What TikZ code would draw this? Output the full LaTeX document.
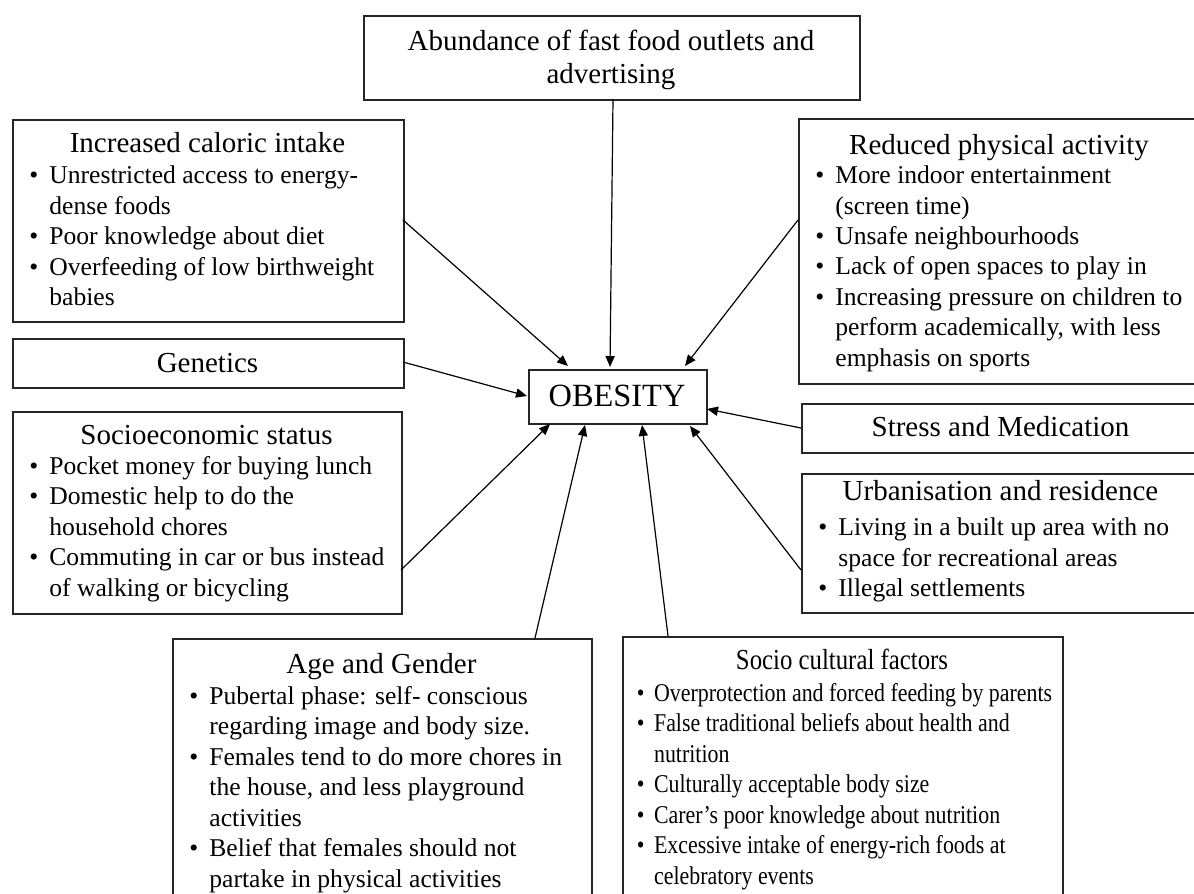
\documentclass[tikz,border=0pt]{standalone}
\usepackage{fontspec}
\setmainfont{Liberation Serif}
\newfontfamily\narrowserif{Liberation Serif}[FakeStretch=0.855]
\usetikzlibrary{arrows.meta}
\newcommand\bu{\makebox[10pt][l]{\textbullet}}
\newcommand\ct{\hspace*{10pt}}
\newcommand\bun{\makebox[8.6pt][l]{\textbullet}}
\newcommand\ctn{\hspace*{8.6pt}}
\tikzset{
  box/.style={draw=black!85, line width=0.8pt, rectangle, inner sep=0pt, anchor=north west},
  ttl/.style={inner sep=0pt, anchor=base, font=\fontsize{14.5}{16}\selectfont},
  body/.style={inner sep=0pt, anchor=base west, align=left, font=\fontsize{12.8}{15.2}\selectfont},
  arr/.style={line width=0.6pt, -{Triangle[length=5.5pt,width=4.6pt]}},
}
\begin{document}
\begin{tikzpicture}[x=0.5pt,y=-0.5pt]
\useasboundingbox (0,0) rectangle (1194,894);
\clip (0,0) rectangle (1194,894);
% boxes
\node[box, minimum width=248pt, minimum height=42pt] (top) at (363,15) {};
\node[box, minimum width=195.5pt, minimum height=101pt] (cal) at (12,119) {};
\node[box, minimum width=195.5pt, minimum height=24.5pt] (gen) at (12,338) {};
\node[box, minimum width=194.5pt, minimum height=101pt] (soc) at (12,411) {};
\node[box, minimum width=201pt, minimum height=132.5pt] (rpa) at (798,118) {};
\node[box, minimum width=199.5pt, minimum height=24.5pt] (str) at (801,403) {};
\node[box, minimum width=199.5pt, minimum height=69.5pt] (urb) at (801,473) {};
\node[box, minimum width=209.5pt, minimum height=141pt] (age) at (172,638) {};
\node[box, minimum width=220pt, minimum height=142pt] (scf) at (622,636) {};
\node[box, minimum width=89pt, minimum height=27pt] (ob) at (528,369) {};
% texts (multi-line nodes are anchored at the baseline of their last line)
\node[ttl, align=center, font=\fontsize{14.5}{16.3}\selectfont] (topT) at (611,83.5) {Abundance of fast food outlets and\\advertising};
\node[ttl] (calT) at (207.5,152.7) {Increased caloric intake};
\node[body] (calB) at (29,305.5) {\bu Unrestricted access to energy-\\\ct dense foods\\\bu Poor knowledge about diet\\\bu Overfeeding of low birthweight\\\ct babies};
\node[ttl] (genT) at (207.5,372) {Genetics};
\node[ttl] (socT) at (206.5,444) {Socioeconomic status};
\node[body] (socB) at (29,596) {\bu Pocket money for buying lunch\\\bu Domestic help to do the\\\ct household chores\\\bu Commuting in car or bus instead\\\ct of walking or bicycling};
\node[ttl] (rpaT) at (999,154) {Reduced physical activity};
\node[body] (rpaB) at (815,366) {\bu More indoor entertainment\\\ct (screen time)\\\bu Unsafe neighbourhoods\\\bu Lack of open spaces to play in\\\bu Increasing pressure on children to\\\ct perform academically, with less\\\ct emphasis on sports};
\node[ttl] (strT) at (1000.5,436) {Stress and Medication};
\node[ttl] (urbT) at (1000.5,500) {Urbanisation and residence};
\node[body] (urbB) at (818,596.5) {\bu Living in a built up area with no\\\ct space for recreational areas\\\bu Illegal settlements};
\node[ttl] (ageT) at (381.5,673) {Age and Gender};
\node[body, font=\fontsize{12.8}{15.25}\selectfont] (ageB) at (189,887) {\bu Pubertal phase: self- conscious\\\ct regarding image and body size.\\\bu Females tend to do more chores in\\\ct the house, and less playground\\\ct activities\\\bu Belief that females should not\\\ct partake in physical activities};
\node[ttl, font=\narrowserif\fontsize{14.5}{16}\selectfont] (scfT) at (842,669) {Socio cultural factors};
\node[body, font=\narrowserif\fontsize{12.8}{15.25}\selectfont] (scfB) at (636.5,884) {\bun Overprotection and forced feeding by parents\\\bun False traditional beliefs about health and\\\ctn nutrition\\\bun Culturally acceptable body size\\\bun Carer’s poor knowledge about nutrition\\\bun Excessive intake of energy-rich foods at\\\ctn celebratory events};
\node[ttl, font=\fontsize{16.2}{18}\selectfont] (obT) at (617,406.7) {OBESITY};
% connector ends
\coordinate (s1) at (613,99);   \coordinate (e1) at (610,367);
\coordinate (s2) at (403,220);  \coordinate (e2) at (568,366);
\coordinate (s3) at (798,220);  \coordinate (e3) at (685,366);
\coordinate (s4) at (403,362);  \coordinate (e4) at (527,396);
\coordinate (s5) at (801,428);  \coordinate (e5) at (707,409);
\coordinate (s6) at (401,570);  \coordinate (e6) at (550,424);
\coordinate (s7) at (801,570);  \coordinate (e7) at (690,426);
\coordinate (s8) at (535,638);  \coordinate (e8) at (585,425);
\coordinate (s9) at (668,636);  \coordinate (e9) at (642,425);
\foreach \i in {1,...,9} {\draw[arr] (s\i) -- (e\i);}
\end{tikzpicture}
\end{document}
